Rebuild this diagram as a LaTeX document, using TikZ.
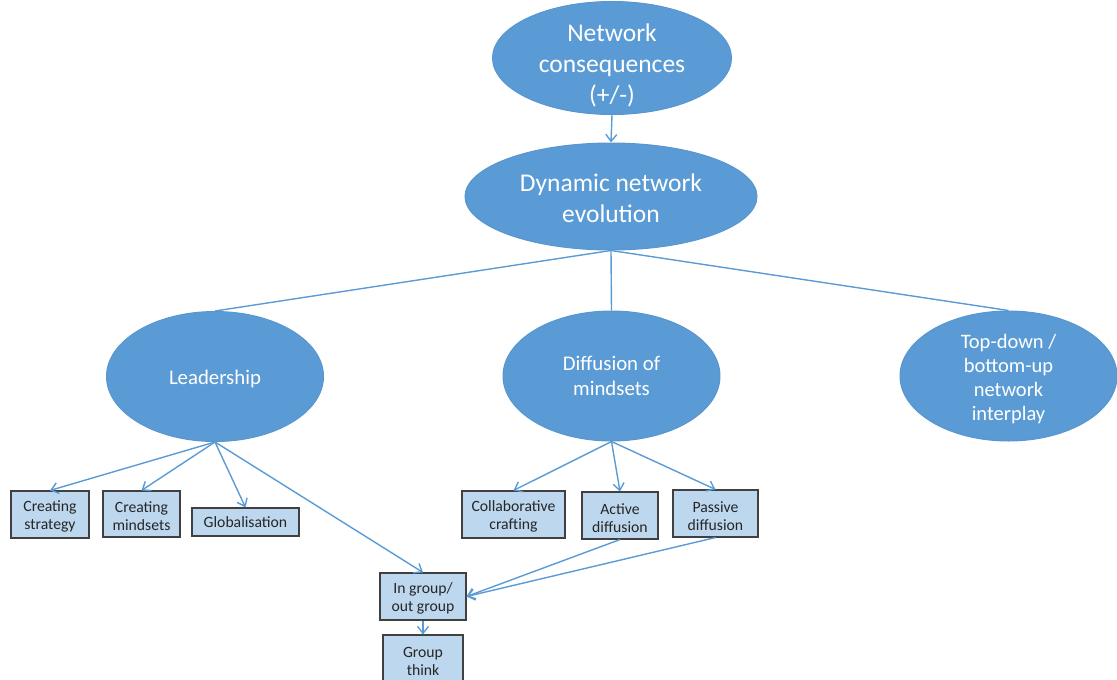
\documentclass[tikz,border=0pt]{standalone}
\usepackage{fontspec}
\setmainfont{Carlito}
\usetikzlibrary{shapes.geometric,arrows.meta}
\definecolor{ovalblue}{HTML}{5B9BD5}
\definecolor{ovalline}{HTML}{5A96CE}
\definecolor{boxfill}{HTML}{BDD7EE}
\definecolor{boxline}{HTML}{404040}
\definecolor{inktext}{HTML}{262626}
% invisible strut that lowers a multi-line label inside its shape
\newcommand{\lowerby}[1]{\rule{0pt}{#1pt}}
\tikzset{
  oval/.style={ellipse, fill=ovalblue, draw=ovalline, line width=1pt,
    inner xsep=0pt, inner ysep=-30pt, text=white, align=center},
  bigoval/.style={oval, font=\fontsize{25.5}{31}\selectfont},
  midoval/.style={oval, font=\fontsize{20.8}{25}\selectfont},
  leaf/.style={rectangle, fill=boxfill, draw=boxline, line width=1.1pt, inner sep=0pt,
    text=inktext, align=center, font=\fontsize{15.7}{18}\selectfont},
  link/.style={draw=ovalblue, line width=1.4pt},
  arrowlink/.style={link, -{Straight Barb[length=7pt,width=11pt,line width=1.4pt]}}
}
\begin{document}
\begin{tikzpicture}[x=1pt,y=-1pt]
\useasboundingbox (0,0) rectangle (1117,680);
\clip (0,0) rectangle (1117,680);

% top level ovals
\node[bigoval, minimum width=239, minimum height=113] (cons) at (612,58)
  {\lowerby{32}Network\\consequences\\(+/-)};
\node[bigoval, minimum width=292, minimum height=107] (evo) at (611,196.5)
  {\lowerby{22}Dynamic network\\evolution};

% second level ovals
\node[midoval, minimum width=217, minimum height=130, text height=18.5] (lead) at (215,376.5)
  {Leadership};
\node[midoval, minimum width=217, minimum height=130] (diff) at (611.5,376)
  {Diffusion of\\mindsets};
\node[midoval, minimum width=217, minimum height=130, font=\fontsize{20.5}{24}\selectfont]
  (topd) at (1008.5,376) {\lowerby{21}Top-down /\\bottom-up\\network\\interplay};

% leaf boxes
\node[leaf, minimum width=78, minimum height=47] (strat) at (50,514.5) {\lowerby{15.5}Creating\\strategy};
\node[leaf, minimum width=77, minimum height=46] (minds) at (141.5,514) {\lowerby{15.5}Creating\\mindsets};
\node[leaf, minimum width=107, minimum height=28] (glob) at (245.5,522) {Globalisation};
\node[leaf, minimum width=103, minimum height=47] (collab) at (513.5,514.5) {\lowerby{15.5}Collaborative\\crafting};
\node[leaf, minimum width=76, minimum height=47] (active) at (620,515.5) {\lowerby{15.5}Active\\diffusion};
\node[leaf, minimum width=85, minimum height=47] (passive) at (715.5,513.5) {\lowerby{15.5}Passive\\diffusion};
\node[leaf, minimum width=86, minimum height=47] (ingroup) at (423,596.5) {\lowerby{15.5}In group/\\out group};
\node[leaf, minimum width=80, minimum height=52, text depth=0pt] (gthink) at (423,661)
  {Group\\think};

% connectors
\draw[arrowlink] (cons.south) -- (evo.north);
\draw[link] (evo.south) -- (lead.north);
\draw[link] (evo.south) -- (diff.north);
\draw[link] (evo.south) -- (topd.north);

\draw[arrowlink] (lead.south) -- (strat.north);
\draw[arrowlink] (lead.south) -- (minds.north);
\draw[arrowlink] (lead.south) -- (glob.north);
\draw[arrowlink] (lead.south) -- (ingroup.north);

\draw[arrowlink] (diff.south) -- (collab.north);
\draw[arrowlink] (diff.south) -- (active.north);
\draw[arrowlink] (diff.south) -- (passive.north);

\draw[arrowlink] (active.south) -- (ingroup.east);
\draw[arrowlink] (passive.south) -- (ingroup.east);
\draw[arrowlink] (ingroup.south) -- (gthink.north);
\end{tikzpicture}
\end{document}
